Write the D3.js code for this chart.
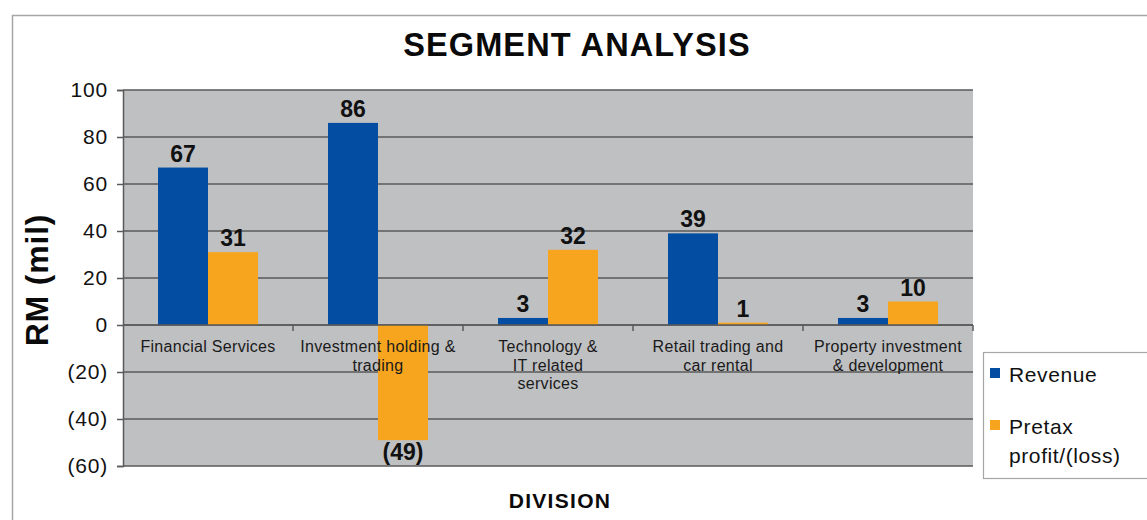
<!DOCTYPE html>
<html>
<head>
<meta charset="utf-8">
<script src="https://cdn.jsdelivr.net/npm/d3@7"></script>
<style>
  html, body { margin: 0; padding: 0; background: #fff; }
  svg { display: block; font-family: "Liberation Sans", Arial, Helvetica, sans-serif; }
</style>
</head>
<body>
<svg id="chart" width="1147" height="520"></svg>
<script>
// Segment figures, RM million
const categories = [
  "Financial Services",
  "Investment holding &\ntrading",
  "Technology &\nIT related\nservices",
  "Retail trading and\ncar rental",
  "Property investment\n& development"
];
const revenue = [67, 86, 3, 39, 3];
const pretax = [31, -49, 32, 1, 10];
const seriesNames = ["Revenue", "Pretax\nprofit/(loss)"];
const yTicks = [-60, -40, -20, 0, 20, 40, 60, 80, 100];

const colors = ["#034ea2", "#f7a51e"];
const svg = d3.select("#chart");

// outer frame
svg.append("rect")
  .attr("x", 12.5).attr("y", 15.5)
  .attr("width", 1200).attr("height", 600)
  .attr("fill", "#fff").attr("stroke", "#a6a6a6").attr("stroke-width", 1.5);

const plot = { left: 123, right: 973, top: 90, bottom: 466 };

const y = d3.scaleLinear().domain([-60, 100]).range([plot.bottom, plot.top]);
const x = d3.scaleBand().domain(d3.range(categories.length))
  .range([plot.left, plot.right]).paddingInner(0).paddingOuter(0);
const inner = d3.scaleBand().domain([0, 1])
  .range([0, x.bandwidth()]).paddingInner(0).paddingOuter(0.7);

// plot background
svg.append("rect")
  .attr("x", plot.left).attr("y", plot.top)
  .attr("width", plot.right - plot.left).attr("height", plot.bottom - plot.top)
  .attr("fill", "#bfc0c2");

// gridlines
svg.append("g").selectAll("line").data(yTicks).join("line")
  .attr("x1", plot.left).attr("x2", plot.right)
  .attr("y1", d => y(d)).attr("y2", d => y(d))
  .attr("stroke", "#5a5a5a").attr("stroke-width", 1.5);

// y axis
const yAxis = d3.axisLeft(y).tickValues(yTicks).tickSize(6).tickPadding(9)
  .tickFormat(d => d < 0 ? `(${Math.abs(d)})` : `${d}`);
const gy = svg.append("g").attr("transform", `translate(${plot.left},0)`).call(yAxis);
gy.select(".domain").attr("stroke", "#5a5a5a").attr("stroke-width", 1.5);
gy.selectAll(".tick line").attr("stroke", "#5a5a5a").attr("stroke-width", 1.5);
gy.selectAll(".tick text").attr("font-size", 21).attr("fill", "#111")
  .attr("letter-spacing", 0.8)
  .attr("font-family", "Liberation Sans, Arial, sans-serif");

// bars
const series = [revenue, pretax];
series.forEach((vals, s) => {
  svg.append("g").selectAll("rect").data(vals).join("rect")
    .attr("x", (d, i) => x(i) + inner(s))
    .attr("width", inner.bandwidth())
    .attr("y", d => y(Math.max(0, d)))
    .attr("height", d => Math.abs(y(d) - y(0)))
    .attr("fill", colors[s]);
});

// zero line with category ticks
svg.append("line")
  .attr("x1", plot.left).attr("x2", plot.right)
  .attr("y1", y(0)).attr("y2", y(0))
  .attr("stroke", "#5a5a5a").attr("stroke-width", 1.5);
svg.append("g").selectAll("line").data(d3.range(1, categories.length + 1)).join("line")
  .attr("x1", i => x(0) + i * x.bandwidth()).attr("x2", i => x(0) + i * x.bandwidth())
  .attr("y1", y(0)).attr("y2", y(0) + 6)
  .attr("stroke", "#5a5a5a").attr("stroke-width", 1.5);

// category labels
const catLabels = svg.append("g").selectAll("text").data(categories).join("text")
  .attr("text-anchor", "middle")
  .attr("font-size", 16).attr("letter-spacing", 0.3).attr("fill", "#1a1a1a")
  .attr("x", (d, i) => x(i) + x.bandwidth() / 2)
  .attr("y", y(0) + 27);
catLabels.each(function(d) {
  const t = d3.select(this);
  d.split("\n").forEach((line, k) => {
    t.append("tspan").attr("x", t.attr("x")).attr("dy", k === 0 ? 0 : 18.5).text(line);
  });
});

// value labels
series.forEach((vals, s) => {
  svg.append("g").selectAll("text").data(vals).join("text")
    .attr("text-anchor", "middle")
    .attr("font-size", 23).attr("font-weight", "bold").attr("fill", "#111")
    .attr("x", (d, i) => x(i) + inner(s) + inner.bandwidth() / 2)
    .attr("y", d => d >= 0 ? y(d) - 6 : y(d) + 20)
    .text(d => d < 0 ? `(${Math.abs(d)})` : d);
});

// title
svg.append("text")
  .attr("x", 577).attr("y", 56).attr("text-anchor", "middle")
  .attr("font-size", 32.5).attr("font-weight", "bold").attr("letter-spacing", 1.1)
  .attr("fill", "#0a0a0a")
  .text("SEGMENT ANALYSIS");

// axis titles
svg.append("text")
  .attr("transform", "translate(48,280) rotate(-90)")
  .attr("text-anchor", "middle")
  .attr("font-size", 32).attr("font-weight", "bold").attr("letter-spacing", 0.8)
  .attr("fill", "#0a0a0a")
  .text("RM (mil)");
svg.append("text")
  .attr("x", 560).attr("y", 508).attr("text-anchor", "middle")
  .attr("font-size", 21).attr("font-weight", "bold").attr("letter-spacing", 1.3)
  .attr("fill", "#0a0a0a")
  .text("DIVISION");

// legend
const lg = svg.append("g");
lg.append("rect")
  .attr("x", 983.5).attr("y", 352.5).attr("width", 200).attr("height", 126)
  .attr("fill", "#fff").attr("stroke", "#a6a6a6").attr("stroke-width", 1.2);
const legendY = [368, 420];
seriesNames.forEach((name, s) => {
  lg.append("rect")
    .attr("x", 990).attr("y", legendY[s]).attr("width", 10).attr("height", 10)
    .attr("fill", colors[s]);
  const t = lg.append("text").attr("x", 1009).attr("y", legendY[s] + 14)
    .attr("font-size", 21).attr("letter-spacing", 0.6).attr("fill", "#111");
  name.split("\n").forEach((line, k) => {
    t.append("tspan").attr("x", 1009).attr("dy", k === 0 ? 0 : 29).text(line);
  });
});
</script>
</body>
</html>
